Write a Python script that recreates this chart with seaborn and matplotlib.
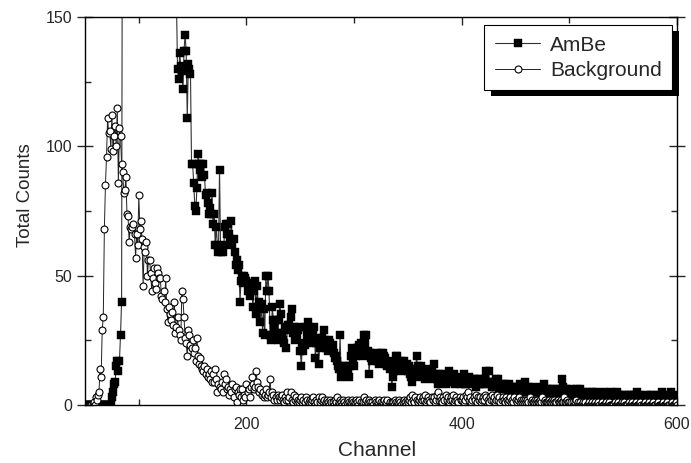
import numpy as np
import pandas as pd
import matplotlib
matplotlib.use("Agg")
import matplotlib.pyplot as plt
import matplotlib.transforms as mtransforms
from matplotlib.patches import Rectangle
from matplotlib.ticker import MultipleLocator
import seaborn as sns

# ---------------- data (one value per channel, 50..600) ----------------
channels = np.arange(50, 601)

ambe_counts = [
    0, 0, 0, 0, 0, 0, 0, 0, 0, 0,
    0, 0, 0, 0, 0, 0, 0, 0, 0, 0,
    0, 0, 0, 0, 0, 3, 5, 8, 9, 15,
    17, 13, 17, 27, 40, 260, 420, 560, 680, 790,
    850, 900, 940, 960, 980, 990, 985, 970, 950, 930,
    900, 870, 840, 800, 760, 720, 680, 640, 600, 560,
    520, 480, 450, 420, 390, 360, 335, 310, 290, 270,
    250, 235, 220, 210, 200, 190, 182, 175, 170, 165,
    160, 158, 156, 154, 152, 155, 130, 126, 136, 131,
    129, 122, 137, 143, 137, 111, 132, 130, 128, 93,
    93, 86, 77, 75, 84, 97, 93, 91, 93, 88,
    93, 89, 81, 82, 78, 74, 76, 74, 82, 70,
    74, 62, 69, 62, 59, 91, 59, 60, 59, 62,
    69, 70, 66, 70, 66, 64, 71, 62, 64, 59,
    54, 56, 52, 54, 40, 48, 50, 47, 50, 49,
    48, 44, 45, 42, 47, 45, 38, 44, 48, 35,
    46, 38, 40, 32, 39, 28, 37, 27, 50, 44,
    50, 44, 27, 25, 38, 33, 30, 33, 28, 25,
    33, 39, 35, 28, 25, 24, 30, 22, 29, 31,
    31, 34, 37, 28, 30, 25, 28, 26, 29, 30,
    21, 15, 24, 21, 23, 30, 27, 32, 30, 26,
    28, 24, 27, 30, 18, 24, 26, 16, 22, 25,
    26, 23, 29, 25, 22, 24, 21, 25, 24, 22,
    23, 20, 18, 19, 17, 15, 14, 27, 11, 12,
    15, 13, 15, 14, 12, 11, 15, 19, 22, 17,
    15, 21, 19, 22, 20, 23, 24, 21, 19, 27,
    24, 27, 20, 21, 12, 20, 18, 17, 19, 18,
    20, 17, 19, 16, 18, 20, 17, 20, 19, 18,
    16, 15, 17, 14, 16, 7, 11, 13, 13, 19,
    19, 16, 14, 15, 17, 13, 17, 15, 14, 16,
    13, 15, 12, 11, 9, 13, 14, 11, 19, 15,
    14, 12, 15, 13, 11, 13, 10, 11, 12, 14,
    12, 11, 13, 10, 16, 12, 11, 10, 8, 12,
    10, 11, 9, 12, 10, 8, 11, 9, 13, 10,
    11, 10, 9, 12, 8, 10, 11, 9, 10, 8,
    10, 9, 12, 8, 8, 10, 9, 11, 10, 9,
    8, 10, 9, 7, 10, 9, 10, 8, 9, 8,
    9, 8, 10, 13, 9, 13, 8, 9, 7, 8,
    7, 9, 10, 8, 10, 6, 7, 8, 6, 7,
    8, 6, 7, 5, 8, 6, 7, 5, 6, 7,
    6, 7, 5, 6, 8, 6, 5, 7, 6, 9,
    6, 5, 7, 6, 5, 6, 7, 5, 6, 5,
    6, 5, 6, 4, 7, 5, 8, 5, 4, 6,
    5, 4, 6, 5, 4, 6, 5, 4, 5, 6,
    4, 5, 6, 10, 7, 5, 4, 6, 5, 4,
    5, 4, 6, 5, 3, 5, 4, 6, 4, 5,
    6, 4, 3, 5, 4, 3, 5, 4, 3, 4,
    3, 5, 4, 3, 4, 5, 3, 4, 3, 2,
    4, 3, 5, 3, 4, 2, 3, 4, 3, 5,
    3, 4, 2, 3, 5, 3, 4, 2, 3, 4,
    3, 2, 4, 3, 2, 4, 3, 4, 2, 3,
    4, 2, 3, 5, 3, 2, 4, 3, 2, 3,
    2, 4, 3, 2, 3, 4, 2, 3, 4, 2,
    3, 2, 4, 3, 2, 3, 5, 2, 3, 2,
    3, 4, 2, 3, 5, 3, 2, 3, 4, 2,
    3,
]

background_counts = [
    0, 0, 0, 0, 0, 0, 0, 0, 1, 0,
    3, 2, 4, 5, 14, 11, 29, 34, 68, 85,
    96, 111, 105, 106, 99, 112, 98, 104, 108, 100,
    115, 86, 107, 104, 93, 90, 82, 83, 88, 74,
    73, 63, 69, 68, 69, 70, 66, 57, 66, 62,
    81, 68, 71, 64, 46, 61, 59, 63, 50, 56,
    56, 51, 44, 49, 53, 47, 45, 53, 51, 49,
    49, 42, 41, 44, 40, 49, 37, 32, 38, 35,
    33, 36, 31, 40, 28, 30, 34, 29, 27, 25,
    44, 41, 34, 26, 24, 19, 29, 27, 23, 22,
    25, 20, 22, 17, 26, 19, 16, 18, 15, 14,
    13, 15, 12, 14, 11, 12, 10, 13, 9, 12,
    9, 14, 10, 5, 8, 7, 6, 9, 5, 12,
    8, 10, 6, 7, 4, 6, 5, 8, 3, 6,
    7, 1, 5, 4, 6, 3, 6, 2, 4, 3,
    8, 5, 6, 3, 7, 11, 8, 6, 7, 13,
    9, 7, 5, 6, 4, 5, 3, 4, 6, 3,
    4, 5, 10, 3, 5, 4, 2, 3, 2, 4,
    3, 2, 3, 4, 2, 1, 3, 2, 5, 2,
    3, 5, 2, 1, 4, 2, 3, 1, 2, 1,
    2, 3, 1, 2, 1, 3, 2, 0, 1, 2,
    1, 2, 3, 1, 0, 2, 1, 3, 1, 2,
    3, 1, 2, 0, 1, 2, 1, 0, 2, 1,
    1, 0, 2, 1, 3, 0, 1, 2, 1, 0,
    2, 1, 0, 1, 2, 1, 0, 1, 2, 1,
    0, 1, 2, 1, 0, 2, 1, 0, 1, 3,
    1, 2, 0, 1, 2, 1, 0, 1, 0, 2,
    1, 0, 1, 2, 0, 1, 0, 1, 2, 0,
    1, 2, 0, 1, 0, 1, 1, 0, 2, 1,
    0, 1, 2, 1, 0, 1, 2, 1, 0, 2,
    1, 2, 3, 1, 4, 2, 1, 3, 2, 1,
    2, 3, 1, 2, 3, 2, 4, 1, 2, 3,
    2, 1, 3, 2, 3, 1, 2, 4, 5, 2,
    3, 2, 1, 3, 2, 4, 2, 3, 1, 2,
    3, 2, 4, 1, 2, 3, 2, 1, 3, 2,
    2, 3, 1, 2, 4, 3, 5, 2, 3, 1,
    2, 3, 2, 4, 1, 3, 2, 3, 1, 2,
    3, 2, 4, 3, 2, 1, 3, 2, 4, 2,
    3, 1, 2, 4, 2, 3, 1, 2, 3, 2,
    1, 3, 2, 1, 2, 3, 1, 2, 1, 3,
    2, 1, 2, 3, 1, 2, 1, 2, 1, 2,
    1, 2, 1, 3, 1, 2, 1, 1, 2, 1,
    2, 1, 1, 2, 1, 3, 1, 2, 1, 1,
    1, 2, 1, 1, 2, 1, 2, 1, 1, 2,
    1, 1, 2, 1, 1, 3, 1, 1, 2, 1,
    1, 0, 1, 1, 0, 1, 2, 0, 1, 0,
    1, 0, 0, 1, 0, 1, 0, 0, 1, 0,
    0, 1, 0, 0, 1, 0, 0, 1, 0, 0,
    1, 0, 0, 0, 1, 0, 0, 1, 0, 0,
    0, 0, 1, 0, 0, 1, 0, 0, 0, 1,
    0, 1, 0, 0, 0, 1, 0, 0, 1, 0,
    0, 0, 1, 0, 0, 0, 1, 0, 0, 0,
    1, 0, 0, 0, 1, 0, 0, 0, 1, 0,
    0, 0, 1, 0, 0, 0, 0, 1, 0, 0,
    0, 1, 0, 0, 0, 1, 0, 0, 0, 1,
    0,
]

series_names = ["AmBe", "Background"]
x_ticks = [200, 400, 600]
y_ticks = [0, 50, 100, 150]

assert len(ambe_counts) == len(channels)
assert len(background_counts) == len(channels)

df = pd.DataFrame({"Channel": channels,
                   "AmBe": ambe_counts,
                   "Background": background_counts})

# ---------------- style ----------------
sns.set_style("ticks")
plt.rcParams["font.family"] = ["Liberation Sans", "DejaVu Sans"]

fig = plt.figure(figsize=(6.91, 4.63), dpi=100)
ax = fig.add_axes([0.123, 0.1253, 0.8567, 0.838])

sns.lineplot(data=df, x="Channel", y="AmBe", ax=ax, estimator=None,
             color="#333333", linewidth=0.8, marker="s", markersize=5.4,
             markerfacecolor="black", markeredgecolor="black",
             markeredgewidth=0.3, label=series_names[0])
sns.lineplot(data=df, x="Channel", y="Background", ax=ax, estimator=None,
             color="#222222", linewidth=0.7, marker="o", markersize=5.0,
             markerfacecolor="white", markeredgecolor="black",
             markeredgewidth=0.8, label=series_names[1])

ax.set_xlim(50, 600)
ax.set_ylim(0, 150)
ax.set_xticks(x_ticks)
ax.set_yticks(y_ticks)
ax.xaxis.set_minor_locator(MultipleLocator(100))
ax.yaxis.set_minor_locator(MultipleLocator(25))

for s in ax.spines.values():
    s.set_visible(True)
    s.set_color("black")
    s.set_linewidth(1.0)

ax.tick_params(axis="x", which="major", direction="in", length=6, width=1,
               top=True, labelsize=11.5, pad=9)
ax.tick_params(axis="x", which="minor", direction="in", length=4, width=1, top=True)
ax.tick_params(axis="y", which="major", direction="inout", length=12, width=1,
               right=True, labelsize=11.5, pad=3)
ax.tick_params(axis="y", which="minor", direction="in", length=4, width=1, right=True)

ax.set_xlabel("Channel", fontsize=15)
ax.set_ylabel("Total Counts", fontsize=13.5, va="center")
ax.xaxis.set_label_coords(0.494, -0.093)
ax.yaxis.set_label_coords(-0.1, 0.54)

leg = ax.legend(loc="upper right", bbox_to_anchor=(0.9916, 0.979),
                borderaxespad=0, fontsize=15, handlelength=2.2,
                handletextpad=0.45, labelspacing=0.3, borderpad=0.5,
                fancybox=False, framealpha=1, edgecolor="black")
leg.get_frame().set_linewidth(0.8)

# solid black drop shadow behind the legend box
fig.canvas.draw()
bb = leg.get_window_extent()
shadow = Rectangle((bb.x0 + 7, bb.y0 - 6), bb.width, bb.height,
                   transform=mtransforms.IdentityTransform(),
                   facecolor="black", edgecolor="none",
                   zorder=leg.get_zorder() - 0.1, clip_on=False)
ax.add_patch(shadow)

fig.savefig("out.png", dpi=100)
